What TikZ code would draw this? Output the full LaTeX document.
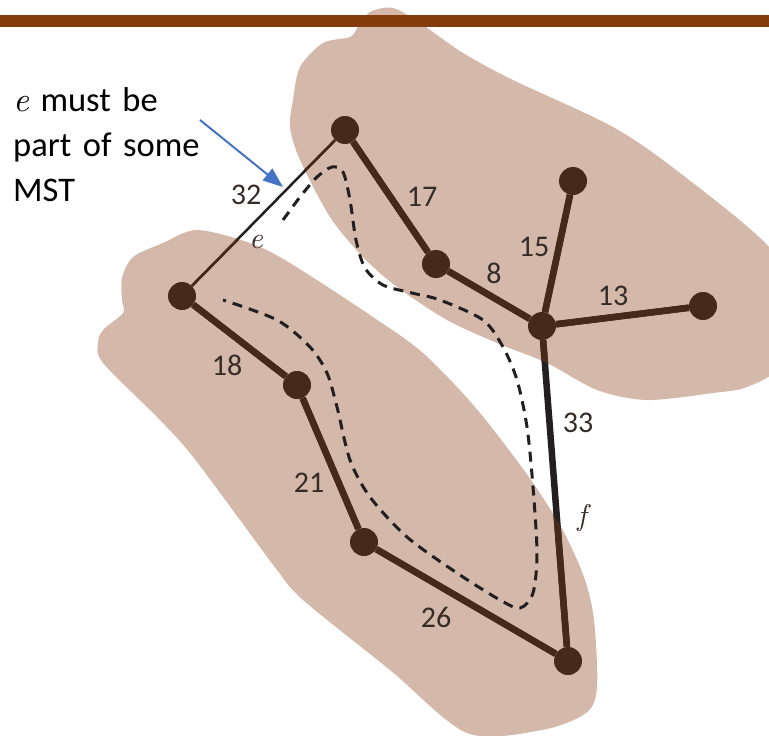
\documentclass[tikz,border=0pt]{standalone}
\usepackage{fontspec}
\setmainfont{Carlito}
\newfontfamily\lmitalic{lmroman10-italic}[Extension=.otf]
\usetikzlibrary{arrows.meta}
\definecolor{MSTBlob}{HTML}{D4B8A9}
\definecolor{MSTBrown}{HTML}{45291A}
\definecolor{MSTInk}{HTML}{231F20}
\definecolor{MSTBar}{HTML}{843C0C}
\definecolor{MSTBlue}{HTML}{4472C4}
\definecolor{MSTLabel}{HTML}{362C27}
% the two components of the cut
\newcommand{\upperblob}{plot[smooth cycle] coordinates {(370,12) (393,8) (420,23) (463,53) (513,80) (613,127) (680,173) (769,247) (790,300) (780,365) (747,387) (713,393) (647,400) (597,390) (547,363) (497,343) (447,320) (397,287) (363,257) (330,217) (300,160) (290,127) (293,100) (300,67) (323,43) (350,37) (358,27)}}
\newcommand{\lowerblob}{plot[smooth cycle] coordinates {(197,230) (250,243) (290,263) (373,317) (423,353) (475,407) (526,473) (561,527) (584,577) (594,620) (597,687) (586,713) (542,730) (467,733) (390,670) (303,600) (277,570) (240,520) (190,453) (157,417) (103,363) (98,343) (103,330) (123,313) (122,300) (122,278) (133,257) (163,243)}}
\newcommand{\edgename}[1]{{\lmitalic #1}}

\begin{document}
\begin{tikzpicture}[x=1pt,y=-1pt,
  vertex/.style={circle,fill=MSTBrown,inner sep=0pt,minimum size=28pt},
  weight/.style={text=MSTLabel,font=\fontsize{30}{36}\selectfont,inner sep=0pt},
  cutpath/.style={draw=MSTInk,line width=3pt,dash pattern=on 10pt off 7pt},
  note/.style={anchor=base west,text width=230pt,align=left,inner sep=0pt,
               font=\fontsize{34.5}{45}\selectfont}
]
\useasboundingbox (0,0) rectangle (769,736);
\fill[MSTBlob] \upperblob;
\fill[MSTBlob] \lowerblob;

\node[vertex] (u1) at (345,130) {};
\node[vertex] (u2) at (436,264) {};
\node[vertex] (u3) at (542,326) {};
\node[vertex] (u4) at (573,181) {};
\node[vertex] (u5) at (703,306) {};
\node[vertex] (l1) at (182,296) {};
\node[vertex] (l2) at (297,385) {};
\node[vertex] (l3) at (364,542) {};
\node[vertex] (l4) at (568,661) {};

% edges: dark between the blobs, brown inside them
\foreach \a/\b/\w in {u1/l1/2.5,u1/u2/6.5,u2/u3/6.5,u3/u4/6.5,u3/u5/6.5,l1/l2/6.5,l2/l3/6.5,l3/l4/6.5,u3/l4/6.5}{\draw[MSTInk,line width=\w pt] (\a) -- (\b);}
\begin{scope}
\clip \upperblob \lowerblob;
\foreach \a/\b/\w in {u1/l1/2.5,u1/u2/6.5,u2/u3/6.5,u3/u4/6.5,u3/u5/6.5,l1/l2/6.5,l2/l3/6.5,l3/l4/6.5,u3/l4/6.5}{\draw[MSTBrown,line width=\w pt] (\a) -- (\b);}
\end{scope}

\draw[cutpath] plot[smooth] coordinates {(283,220) (300,197) (317,177) (332,167) (343,172) (350,200) (356,240) (365,268) (383,285) (412,293) (440,300) (483,320) (503,347) (517,380) (527,427) (533,487) (537,553) (533,593) (520,608) (500,600) (457,573) (407,537) (370,497) (350,460) (337,407) (327,373) (310,347) (277,320) (223,300)};

\foreach \n/\x/\y in {32/246/195,17/422/197,8/494/273,15/534/247,13/613/296,18/227/365,21/309/483,26/436/617,33/578/423}{\node[weight] (w\n) at (\x,\y) {\n};}
\node[weight] (le) at (256,242) {\edgename{e}};
\node[weight] (lf) at (582,518) {\edgename{f}};

\node[note] (remark) at (13,111) {\edgename{e} must be\\part of some\\MST};
\coordinate (arrowfrom) at (200,120);
\coordinate (arrowto) at (283,187);
\draw[MSTBlue,line width=2pt,-{Triangle[length=20pt,width=15pt]}] (arrowfrom) -- (arrowto);

\fill[MSTBar] (0,15) rectangle (769,27);
\end{tikzpicture}
\end{document}
